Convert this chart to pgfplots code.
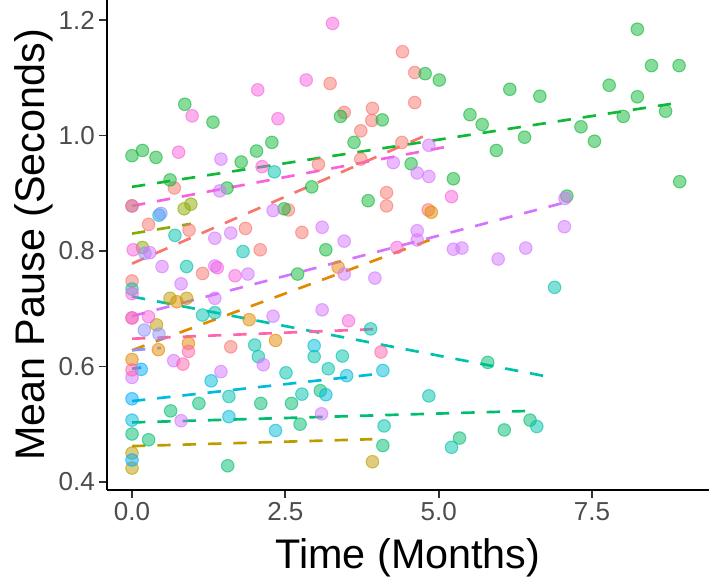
\documentclass[border=0pt]{standalone}
\usepackage{pgfplots}
\pgfplotsset{compat=1.18}
\usepackage{fontspec}
\setmainfont{Liberation Sans}
\definecolor{c1}{HTML}{F8766D}
\definecolor{c2}{HTML}{E18A00}
\definecolor{c3}{HTML}{BE9C00}
\definecolor{c4}{HTML}{8CAB00}
\definecolor{c5}{HTML}{10B838}
\definecolor{c6}{HTML}{00BE70}
\definecolor{c7}{HTML}{00C1AB}
\definecolor{c8}{HTML}{00BBDA}
\definecolor{c9}{HTML}{00ACFC}
\definecolor{c10}{HTML}{8B93FF}
\definecolor{c11}{HTML}{D575FE}
\definecolor{c12}{HTML}{F962DD}
\definecolor{c13}{HTML}{FF65AC}
\pgfplotsset{
  pt/.style={only marks, mark=*, mark size=4.7pt,
    mark options={fill=#1, draw=#1, fill opacity=0.5, draw opacity=0.6, line width=0.8pt}},
  fit/.style={no marks, color=#1, line width=2pt, dash pattern=on 10pt off 9pt},
}
\begin{document}
\begin{tikzpicture}
\useasboundingbox (-80.25pt,-70.5pt) rectangle (451.5pt,367.5pt);
\begin{axis}[
  at={(0pt,0pt)}, anchor=south west,
  scale only axis, width=451.5pt, height=367.5pt,
  xmin=-0.408, xmax=9.408, ymin=0.386, ymax=1.2346,
  axis lines*=left,
  axis line style={black, line width=1.3pt},
  xtick={0,2.5,5,7.5}, xticklabels={0.0,2.5,5.0,7.5},
  ytick={0.4,0.6,0.8,1.0,1.2}, yticklabels={0.4,0.6,0.8,1.0,1.2},
  tick align=outside, major tick length=6pt,
  tick style={black!80, line width=1.3pt},
  ticklabel style={font=\fontsize{19.5}{23}\selectfont, color=black!70, inner sep=0.3em},
  label style={font=\fontsize{31}{36}\selectfont, inner sep=0pt},
  xlabel={Time (Months)}, ylabel={Mean Pause (Seconds)},
  xlabel style={at={(axis description cs:0.5,0)}, anchor=base, yshift=-58.5pt},
  ylabel style={at={(axis description cs:0,0.5)}, anchor=south, yshift=40.5pt},
]
% salmon
\addplot[pt=c1] coordinates {(0.69,0.909) (0.27,0.846) (0.93,0.836) (1.85,0.839) (1.15,0.761) (0,0.748) (1.61,0.634) (2.09,0.802) (2.55,0.871) (2.77,0.832) (3.04,0.950) (3.23,1.090) (3.46,1.040) (3.73,1.008) (3.73,0.959) (3.91,1.026) (3.92,1.047) (4.15,0.901) (4.15,0.878) (4.40,0.988) (4.41,1.145) (4.61,1.109) (4.61,1.057) (4.83,0.871)};
% orange
\addplot[pt=c2] coordinates {(0,0.612) (0.43,0.629) (0.92,0.640) (0.73,0.712) (1.91,0.681) (2.34,0.645) (3.36,0.772) (4.88,0.867)};
% olive
\addplot[pt=c3] coordinates {(0.62,0.718) (0.89,0.718) (0.40,0.672) (0,0.450) (0,0.424) (3.92,0.435)};
% yellow-green
\addplot[pt=c4] coordinates {(0,0.878) (0.85,0.873) (0.96,0.881) (0.17,0.806)};
% green
\addplot[pt=c5] coordinates {(0,0.965) (0.17,0.974) (0.39,0.962) (1.78,0.954) (0.86,1.054) (1.32,1.023) (2.03,0.973) (2.28,0.988) (3.40,1.033) (4.08,1.027) (3.62,0.988) (4.78,1.107) (5.01,1.096) (6.16,1.080) (6.65,1.068) (5.51,1.036) (5.71,1.019) (6.40,0.997) (5.94,0.974) (4.55,0.951) (8.24,1.184) (8.47,1.121) (8.92,1.121) (7.78,1.087) (8.24,1.067) (8.01,1.033) (8.70,1.042) (7.32,1.015) (7.54,0.990) (8.93,0.920) (7.09,0.895) (5.24,0.925) (0.62,0.923) (1.55,0.909) (2.93,0.911) (3.85,0.887) (2.48,0.873) (3.16,0.802) (2.70,0.760)};
% green-teal
\addplot[pt=c6] coordinates {(1.09,0.536) (0.63,0.523) (0,0.483) (0.27,0.473) (1.56,0.428) (2.10,0.536) (2.60,0.536) (3.07,0.558) (2.74,0.500) (4.09,0.463) (5.80,0.607) (5.34,0.476) (6.07,0.490) (6.49,0.507)};
% teal
\addplot[pt=c7] coordinates {(0,0.734) (0.70,0.827) (1.81,0.799) (0.89,0.773) (1.15,0.689) (1.35,0.693) (1.58,0.548) (2.0,0.637) (2.06,0.617) (2.97,0.617) (3.43,0.618) (2.51,0.589) (3.20,0.596) (2.77,0.552) (3.89,0.665) (4.11,0.497) (4.84,0.549) (6.60,0.496) (6.89,0.737) (2.32,0.937) (5.21,0.460)};
% cyan
\addplot[pt=c8] coordinates {(0,0.507) (1.29,0.575) (1.58,0.513) (2.97,0.636) (3.16,0.551) (2.34,0.489) (3.50,0.584) (4.09,0.593) (0.44,0.862)};
% blue
\addplot[pt=c9] coordinates {(0.15,0.595) (0,0.544) (0,0.438)};
% lavender
\addplot[pt=c10] coordinates {(0.47,0.865) (0.21,0.796) (0.20,0.663) (0.44,0.656)};
% violet
\addplot[pt=c11] coordinates {(1.45,0.959) (4.26,0.953) (4.84,0.983) (4.65,0.935) (4.84,0.929) (4.65,0.835) (4.65,0.819) (5.24,0.803) (5.38,0.805) (5.97,0.786) (6.42,0.805) (7.06,0.891) (7.05,0.842) (1.43,0.904) (1.35,0.822) (1.61,0.831) (0.29,0.797) (0.49,0.773) (1.35,0.774) (1.89,0.760) (0.80,0.743) (1.35,0.718) (2.30,0.870) (3.10,0.841) (3.46,0.817) (3.46,0.760) (3.96,0.753) (2.30,0.687) (3.10,0.698) (0.68,0.610) (0,0.581) (1.45,0.591) (0.80,0.506) (2.14,0.603) (3.09,0.518) (0,0.684)};
% pink
\addplot[pt=c12] coordinates {(0.76,0.971) (0.98,1.034) (2.05,1.079) (3.27,1.194) (2.84,1.096) (2.38,1.029) (2.12,0.946) (5.21,0.894) (0,0.878) (0.02,0.802) (1.39,0.771) (1.68,0.757) (0,0.726) (0.27,0.686) (4.32,0.806) (3.53,0.679)};
% pink-red
\addplot[pt=c13] coordinates {(0.92,0.626) (0.83,0.604) (0,0.594) (4.06,0.625) (0,0.684)};
% fitted lines
\addplot[fit=c1] coordinates {(0,0.778) (4.85,1.003)};
\addplot[fit=c2] coordinates {(0,0.628) (4.88,0.820)};
\addplot[fit=c3] coordinates {(0,0.462) (3.92,0.474)};
\addplot[fit=c4] coordinates {(0,0.830) (0.96,0.847)};
\addplot[fit=c5] coordinates {(0,0.911) (8.93,1.057)};
\addplot[fit=c6] coordinates {(0,0.503) (6.49,0.523)};
\addplot[fit=c7] coordinates {(0,0.721) (6.89,0.580)};
\addplot[fit=c8] coordinates {(0,0.540) (4.09,0.588)};
\addplot[fit=c9] coordinates {(0,0.596) (0.15,0.598)};
\addplot[fit=c10] coordinates {(0,0.628) (0.47,0.632)};
\addplot[fit=c11] coordinates {(0,0.687) (7.06,0.884)};
\addplot[fit=c12] coordinates {(0,0.878) (5.21,0.982)};
\addplot[fit=c13] coordinates {(0,0.648) (4.06,0.665)};
\end{axis}
\end{tikzpicture}
\end{document}
